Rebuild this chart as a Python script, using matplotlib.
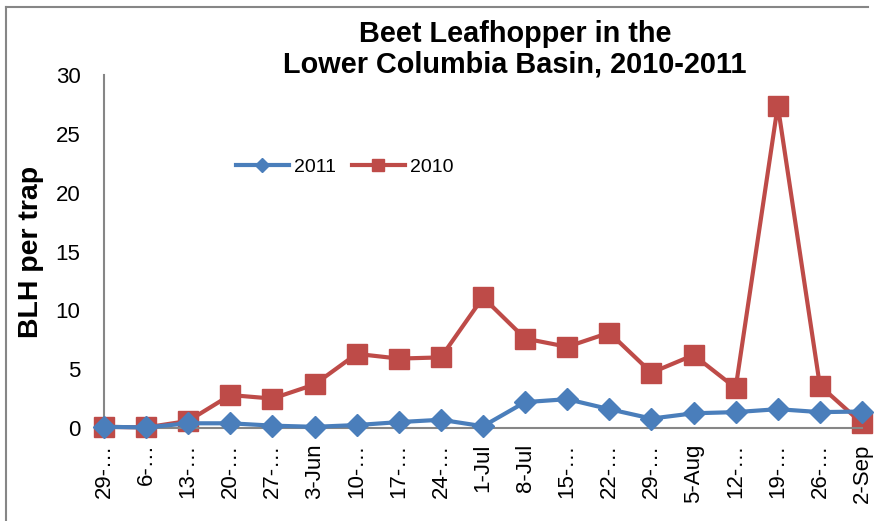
import matplotlib
matplotlib.use("Agg")
import matplotlib.pyplot as plt
from matplotlib.lines import Line2D

plt.rcParams['font.family'] = ['Liberation Sans', 'DejaVu Sans']

# weekly trap dates (truncated as in the original)
dates = ["29-…", "6-…", "13-…", "20-…", "27-…", "3-Jun", "10-…", "17-…", "24-…",
         "1-Jul", "8-Jul", "15-…", "22-…", "29-…", "5-Aug", "12-…", "19-…", "26-…", "2-Sep"]
blh_2011 = [0.1, 0.05, 0.4, 0.4, 0.2, 0.1, 0.25, 0.5, 0.7, 0.15,
            2.2, 2.45, 1.6, 0.8, 1.25, 1.35, 1.6, 1.35, 1.4]
blh_2010 = [0.1, 0.05, 0.6, 2.8, 2.5, 3.7, 6.3, 5.9, 6.0, 11.1,
            7.6, 6.9, 8.1, 4.7, 6.2, 3.4, 27.4, 3.6, 0.4]

blue = "#4A7EBB"
red = "#BE4B48"

fig = plt.figure(figsize=(8.78, 5.21), dpi=100)
ax = fig.add_axes([104/878, 1-428/521, (862-104)/878, (428-75)/521])

x = range(len(dates))
ax.plot(x, blh_2011, color=blue, lw=3, marker="D", ms=11, label="2011", clip_on=False, zorder=3)
ax.plot(x, blh_2010, color=red, lw=3, marker="s", ms=14.5, label="2010", clip_on=False, zorder=2)

ax.set_xlim(0, len(dates) - 1)
ax.set_ylim(0, 30)
ax.set_yticks(range(0, 31, 5))
ax.set_xticks(list(x))
ax.set_xticklabels(dates, rotation=90, fontsize=16)
ax.tick_params(axis="y", labelsize=16, length=0, pad=17)
ax.tick_params(axis="x", length=0, pad=11)

for s in ["top", "right"]:
    ax.spines[s].set_visible(False)
for s in ["left", "bottom"]:
    ax.spines[s].set_color("#868686")
    ax.spines[s].set_linewidth(1.5)

ax.set_ylabel("BLH per trap", fontsize=20.5, fontweight="bold", labelpad=8)

fig.text(515/878, 1-49/521, "Beet Leafhopper in the\nLower Columbia Basin, 2010-2011",
         ha="center", va="center", fontsize=20.8, fontweight="bold", linespacing=1.12)

leg = ax.legend(loc="center", bbox_to_anchor=(345/878, 1-167/521), bbox_transform=fig.transFigure,
                ncol=2, frameon=False, fontsize=14, handlelength=2.7, columnspacing=0.8,
                handletextpad=0.3)
leg.legend_handles[0].set_markersize(7)
leg.legend_handles[1].set_markersize(8)

# outer chart frame (partially cropped in the original)
fig.add_artist(Line2D([6.5/878, 6.5/878], [0, 1-7/521], transform=fig.transFigure, color="#868686", lw=1.5))
fig.add_artist(Line2D([6.5/878, 868/878], [1-7/521, 1-7/521], transform=fig.transFigure, color="#868686", lw=1.5))

fig.savefig("out.png", dpi=100)
